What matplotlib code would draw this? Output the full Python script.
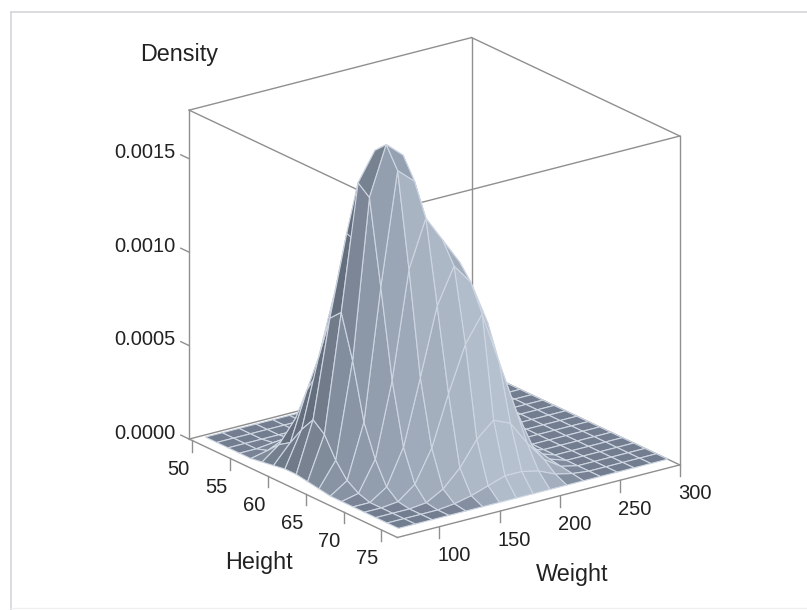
import numpy as np
import matplotlib
matplotlib.use('Agg')
import matplotlib.pyplot as plt
from matplotlib.colors import LinearSegmentedColormap, Normalize
from matplotlib.lines import Line2D
from mpl_toolkits.mplot3d import proj3d

plt.rcParams['font.family'] = ['Liberation Sans', 'DejaVu Sans']

# kernel density, in units of 1e-5
weights = [76, 90, 104, 118, 132, 146, 160, 174, 188, 202, 216, 230, 244, 258, 272, 286, 300]
heights = [50, 51.5, 53, 54.5, 56, 57.5, 59, 60.5, 62, 63.5, 65, 66.5, 68, 69.5, 71, 72.5, 74, 75.5]
density = [
    [0, 0, 0, 0, 0, 0, 0, 0, 0, 0, 0, 0, 0, 0, 0, 0, 0],
    [0, 0, 0, 0, 0, 0, 0, 0, 0, 0, 0, 0, 0, 0, 0, 0, 0],
    [0, 0, 0, 0, 0, 0, 0, 0, 0, 0, 0, 0, 0, 0, 0, 0, 0],
    [0, 0, 1, 1, 0, 0, 0, 0, 0, 0, 0, 0, 0, 0, 0, 0, 0],
    [0, 2, 6, 6, 2, 0, 0, 0, 0, 0, 0, 0, 0, 0, 0, 0, 0],
    [1, 8, 20, 25, 12, 3, 0, 0, 0, 0, 0, 0, 0, 0, 0, 0, 0],
    [2, 12, 38, 50, 28, 8, 1, 0, 0, 0, 0, 0, 0, 0, 0, 0, 0],
    [3, 22, 58, 92, 70, 28, 7, 2, 1, 0, 0, 0, 0, 0, 0, 0, 0],
    [3, 30, 82, 125, 115, 60, 22, 8, 2, 1, 0, 0, 0, 0, 0, 0, 0],
    [2, 25, 88, 155, 170, 110, 50, 20, 8, 2, 0, 0, 0, 0, 0, 0, 0],
    [1, 14, 65, 150, 176, 168, 95, 48, 20, 7, 1, 0, 0, 0, 0, 0, 0],
    [0, 6, 35, 105, 165, 157, 125, 82, 42, 14, 3, 1, 0, 0, 0, 0, 0],
    [0, 2, 18, 58, 115, 140, 126, 112, 75, 35, 8, 2, 0, 0, 0, 0, 0],
    [0, 0, 6, 25, 60, 96, 115, 104, 80, 42, 12, 3, 0, 0, 0, 0, 0],
    [0, 0, 1, 8, 25, 52, 76, 90, 62, 34, 12, 3, 0, 0, 0, 0, 0],
    [0, 0, 0, 1, 6, 15, 28, 36, 32, 19, 8, 2, 0, 0, 0, 0, 0],
    [0, 0, 0, 0, 1, 3, 6, 9, 9, 7, 3, 1, 0, 0, 0, 0, 0],
    [0, 0, 0, 0, 0, 0, 0, 0, 0, 0, 0, 0, 0, 0, 0, 0, 0],
]

weight_ticks = [100, 150, 200, 250, 300]
height_ticks = [50, 55, 60, 65, 70, 75]
density_ticks = [0.0000, 0.0005, 0.0010, 0.0015]

wmin, wmax = 65, 300
hmin, hmax = 49.6, 77.1
zmin, zmax = 0, 0.00176

W, H = np.meshgrid(weights, heights)
Z = np.array(density) * 1e-5

fig = plt.figure(figsize=(8.07, 6.10), dpi=100)
S = 590
ax = fig.add_axes([131.5 / 807, 19.5 / 610, S / 807, S / 610], projection='3d', computed_zorder=False)
ax.set_proj_type('ortho')
ax.view_init(elev=20.4, azim=233.6)
ax.set_box_aspect((1, 1, 1), zoom=1.0)
ax.set_xlim(wmin, wmax)
ax.set_ylim(hmax, hmin)
ax.set_zlim(zmin, zmax)
ax.set_axis_off()

# box outline, all of it sits behind the surface
box = '#8f8f8f'
edges = [
    ((wmin, hmin, zmin), (wmin, hmin, zmax)),
    ((wmax, hmin, zmin), (wmax, hmin, zmax)),
    ((wmax, hmax, zmin), (wmax, hmax, zmax)),
    ((wmin, hmin, zmax), (wmax, hmin, zmax)),
    ((wmax, hmin, zmax), (wmax, hmax, zmax)),
    ((wmax, hmax, zmax), (wmin, hmax, zmax)),
    ((wmin, hmax, zmax), (wmin, hmin, zmax)),
    ((wmin, hmin, zmin), (wmax, hmin, zmin)),
    ((wmax, hmin, zmin), (wmax, hmax, zmin)),
    ((wmax, hmax, zmin), (wmin, hmax, zmin)),
    ((wmin, hmax, zmin), (wmin, hmin, zmin)),
]
for a, b in edges:
    ax.plot(*zip(a, b), color=box, lw=1.0, zorder=1)

# shade each cell from its slope, light comes from the front right
dzdv, dzdu = np.gradient(Z / zmax)
dzdu = dzdu / (14 / (wmax - wmin))
dzdv = dzdv / (1.5 / (hmin - hmax))
nrm = np.sqrt(dzdu**2 + dzdv**2 + 1)
light = np.array([0.3, -0.9, 0.35])
dot = (-dzdu * light[0] - dzdv * light[1] + light[2]) / nrm / np.linalg.norm(light)
dot = (dot[:-1, :-1] + dot[1:, 1:] + dot[:-1, 1:] + dot[1:, :-1]) / 4
cmap = LinearSegmentedColormap.from_list('steel', ['#646e7c', '#848f9f', '#9ba6b6', '#b6c1cf'])
colors = cmap(Normalize(-0.4, 0.95)(dot))

# the flat floor is darker than the lit slopes
floor = np.array([0x72, 0x7d, 0x90, 0xff]) / 255
top = np.array(density, dtype=float)
cell_top = np.maximum.reduce([top[:-1, :-1], top[1:, 1:], top[:-1, 1:], top[1:, :-1]])
mix = np.clip(cell_top / 8, 0, 1)[..., None]
colors = mix * colors + (1 - mix) * floor

surf = ax.plot_surface(W, H, Z, rstride=1, cstride=1, facecolors=colors, shade=False, zorder=2)
surf.set_edgecolor('#ced6e2')
surf.set_linewidth(0.8)


def label_at(x, y, z, text, dx, dy, ha='center', size=14.5):
    # pin the label to a 3D point, shifted by some pixels on the page
    px, py, _ = proj3d.proj_transform(x, y, z, ax.get_proj())
    ax.annotate(text, xy=(px, py), xycoords='data', xytext=(dx, dy), textcoords='offset pixels',
                ha=ha, va='center', fontsize=size, color='#222222', annotation_clip=False)


# ticks and labels
tick_drop = 0.00006
for v in height_ticks:
    ax.plot([wmin, wmin], [v, v], [zmin, -tick_drop], color=box, lw=1.0, zorder=1)
    label_at(wmin, v, zmin, str(v), -14, -29)
for v in weight_ticks:
    ax.plot([v, v], [hmax, hmax], [zmin, -tick_drop], color=box, lw=1.0, zorder=1)
    label_at(v, hmax, zmin, str(v), 15, -29)
for v in density_ticks:
    ax.plot([wmin, wmin], [hmin, hmin - 1.1], [v, v], color=box, lw=1.0, zorder=1)
    label_at(wmin, hmin, v, f'{v:.4f}', -14, 6, ha='right')

fig.text(179 / 807, 1 - 55 / 610, 'Density', ha='center', va='center', fontsize=16.8, color='#222222')
fig.text(259 / 807, 1 - 562 / 610, 'Height', ha='center', va='center', fontsize=16.8, color='#222222')
fig.text(572 / 807, 1 - 574 / 610, 'Weight', ha='center', va='center', fontsize=16.8, color='#222222')

# thin page lines around the graph
fig.add_artist(Line2D([11 / 807, 1], [1 - 12 / 610, 1 - 12 / 610], color='#d4d6da', lw=1.2))
fig.add_artist(Line2D([11 / 807, 11 / 807], [0, 1 - 12 / 610], color='#d4d6da', lw=1.2))
fig.add_artist(Line2D([11 / 807, 1], [1 - 608 / 610, 1 - 608 / 610], color='#f0f0f0', lw=1.0))

plt.savefig('out.png', dpi=100)
